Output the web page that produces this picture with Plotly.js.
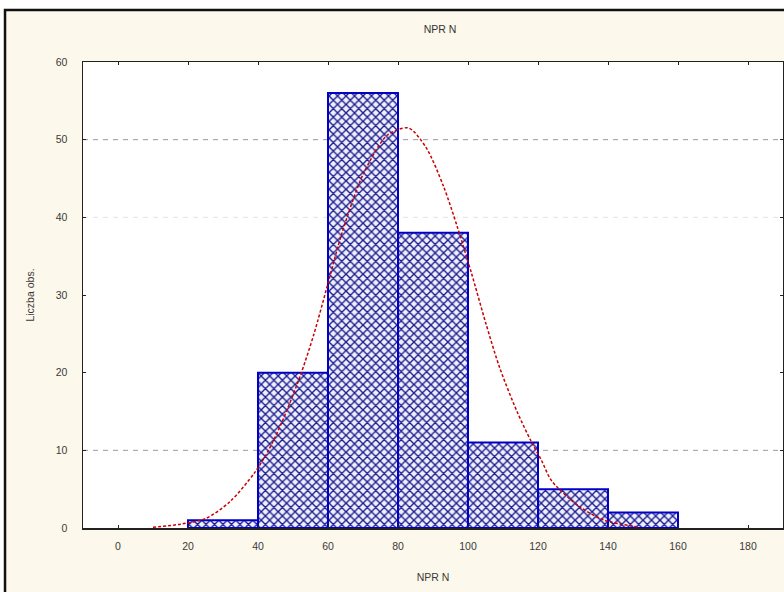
<!DOCTYPE html>
<html>
<head>
<meta charset="utf-8">
<script src="https://cdn.plot.ly/plotly-3.0.1.min.js"></script>
<style>html,body{margin:0;padding:0;background:#fff;}#chart{width:784px;height:592px;}</style>
</head>
<body>
<div id="chart"></div>
<script>
// Histogram bins (NPR N) and counts
const binLow = [20, 40, 60, 80, 100, 120, 140];
const binHigh = [40, 60, 80, 100, 120, 140, 160];
const counts = [1, 20, 56, 38, 11, 5, 2];

// Expected normal curve
const curveX = [10, 18, 25, 32, 39, 43, 47, 52, 56, 60, 64, 70, 77, 83, 88, 93, 97, 101, 105, 109, 114, 118, 121, 124, 132, 139, 149];
const curveY = [0.1, 0.5, 1.2, 3.4, 7.1, 10, 13.8, 19.5, 25.0, 31.5, 38.0, 45.5, 50.6, 51.5, 49.0, 44.0, 38.7, 32.8, 26.5, 20.7, 15.0, 11.2, 8.7, 6.0, 2.7, 1.0, 0.1];

const xTicks = [0, 20, 40, 60, 80, 100, 120, 140, 160, 180];
const yTicks = [0, 10, 20, 30, 40, 50, 60];
const gridLevels = [10, 40, 50];
const gridColors = ['#9a9a9a', '#e2e2e2', '#9a9a9a'];

const mids = binLow.map((l, i) => (l + binHigh[i]) / 2);
const widths = binLow.map((l, i) => binHigh[i] - l);

const font = {family: 'Liberation Sans, Arial, sans-serif', size: 10.5, color: '#3a3a3a'};

const traces = [
  {
    type: 'bar', x: mids, y: counts, width: widths,
    marker: {
      color: '#eef0ff',
      line: {color: '#0000c8', width: 2},
      pattern: {shape: 'x', fgcolor: '#1c1c8a', bgcolor: '#eef0ff', size: 6, solidity: 0.4}
    },
    hoverinfo: 'x+y', showlegend: false
  },
  {
    type: 'scatter', mode: 'lines', x: curveX, y: curveY,
    line: {color: '#c80000', width: 1.5, dash: '3px,2px', shape: 'spline', smoothing: 0.8},
    showlegend: false
  }
];

const shapes = [
  {type: 'rect', xref: 'paper', yref: 'paper', x0: -0.2, x1: 1.1, y0: 1.1116, y1: 1.2, fillcolor: '#ffffff', line: {width: 0}, layer: 'below'},
  {type: 'rect', xref: 'paper', yref: 'paper', x0: -0.2, x1: -0.1114, y0: -0.2, y1: 1.2, fillcolor: '#ffffff', line: {width: 0}, layer: 'below'},
  {type: 'rect', xref: 'paper', yref: 'paper', x0: -0.1114, x1: 1.02, y0: -0.2, y1: 1.1116, fillcolor: 'rgba(0,0,0,0)', line: {color: '#111', width: 2.5}, layer: 'above'}
];
gridLevels.forEach((g, i) => shapes.push({
  type: 'line', xref: 'paper', yref: 'y', x0: 0, x1: 1, y0: g, y1: g,
  line: {color: gridColors[i], width: 1, dash: '5px,5px'}, layer: 'below'
}));

const layout = {
  width: 784, height: 592,
  margin: {l: 83, r: 1, t: 62, b: 64},
  paper_bgcolor: '#fdf8ec',
  plot_bgcolor: '#ffffff',
  font: font,
  title: {text: 'NPR N', font: {family: font.family, size: 10.5, color: '#333'}, x: 0.51, xref: 'paper', xanchor: 'center', y: 0.95, yanchor: 'middle'},
  bargap: 0,
  xaxis: {
    range: [-10, 190], tickvals: xTicks, ticktext: xTicks.map(String),
    ticks: 'inside', ticklen: 3, tickcolor: '#222', showgrid: false, zeroline: false,
    showline: true, linecolor: '#222', linewidth: 1.5, mirror: 'ticks',
    tickfont: font, ticklabelstandoff: 8,
    title: {text: 'NPR N', font: font, standoff: 22}
  },
  yaxis: {
    range: [0, 60], tickvals: yTicks, ticktext: yTicks.map(String),
    ticks: 'inside', ticklen: 3, tickcolor: '#222', showgrid: false, zeroline: false,
    showline: true, linecolor: '#222', linewidth: 1.5, mirror: 'ticks',
    tickfont: font, ticklabelstandoff: 12,
    title: {text: 'Liczba obs.', font: font, standoff: 19}
  },
  shapes: shapes
};

Plotly.newPlot('chart', traces, layout, {displayModeBar: false, staticPlot: true});
</script>
</body>
</html>
